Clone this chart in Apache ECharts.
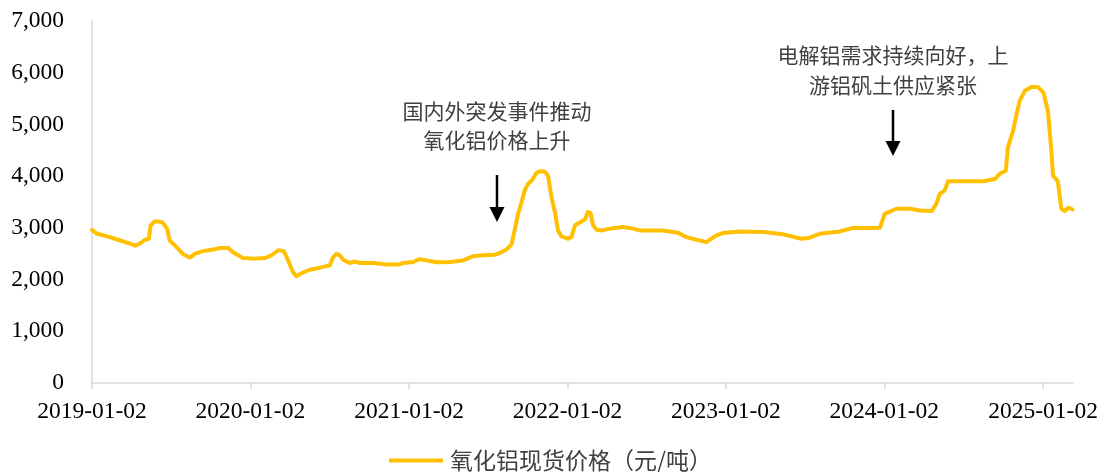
<!DOCTYPE html>
<html>
<head>
<meta charset="utf-8">
<script src="https://cdn.jsdelivr.net/npm/echarts@6/dist/echarts.min.js"></script>
<style>
  html, body { margin: 0; padding: 0; background: #fff; }
  #chart { width: 1101px; height: 472px; }
</style>
</head>
<body>
<div id="chart"></div>
<script>
// 氧化铝现货价格（元/吨）
const dates = [
  '2019-01-02', '2019-01-13', '2019-02-12', '2019-03-03', '2019-03-31', '2019-04-11', '2019-04-22',
  '2019-05-04', '2019-05-13', '2019-05-17', '2019-05-27', '2019-06-13', '2019-06-24', '2019-06-30',
  '2019-07-12', '2019-07-31', '2019-08-16', '2019-08-28', '2019-09-15', '2019-10-08', '2019-10-24',
  '2019-11-12', '2019-11-23', '2019-12-16', '2020-01-08', '2020-02-04', '2020-02-20', '2020-03-06',
  '2020-03-19', '2020-03-29', '2020-04-09', '2020-04-17', '2020-04-29', '2020-05-18', '2020-06-10',
  '2020-07-03', '2020-07-11', '2020-07-19', '2020-07-26', '2020-08-03', '2020-08-18', '2020-08-30',
  '2020-09-10', '2020-10-11', '2020-11-11', '2020-12-08', '2020-12-19', '2021-01-11', '2021-01-26',
  '2021-03-06', '2021-04-06', '2021-05-06', '2021-05-29', '2021-06-21', '2021-07-18', '2021-07-30',
  '2021-08-14', '2021-08-26', '2021-09-02', '2021-09-10', '2021-09-18', '2021-09-25', '2021-10-03',
  '2021-10-13', '2021-10-22', '2021-10-30', '2021-11-10', '2021-11-18', '2021-11-26', '2021-12-04',
  '2021-12-11', '2021-12-19', '2022-01-03', '2022-01-11', '2022-01-19', '2022-01-31', '2022-02-11',
  '2022-02-18', '2022-02-24', '2022-03-02', '2022-03-10', '2022-03-21', '2022-04-09', '2022-05-10',
  '2022-06-02', '2022-06-17', '2022-08-10', '2022-09-14', '2022-10-03', '2022-10-26', '2022-11-18',
  '2022-12-11', '2022-12-26', '2023-02-03', '2023-03-29', '2023-05-14', '2023-06-25', '2023-07-14',
  '2023-08-06', '2023-09-21', '2023-10-22', '2023-11-22', '2023-12-23', '2024-01-03', '2024-01-30',
  '2024-03-01', '2024-03-24', '2024-04-20', '2024-05-01', '2024-05-09', '2024-05-20', '2024-05-28',
  '2024-06-24', '2024-08-17', '2024-09-13', '2024-09-24', '2024-10-08', '2024-10-13', '2024-10-25',
  '2024-11-02', '2024-11-09', '2024-11-21', '2024-12-06', '2024-12-21', '2025-01-03', '2025-01-13',
  '2025-01-21', '2025-01-25', '2025-02-05', '2025-02-13', '2025-02-21', '2025-03-01', '2025-03-11'
];
const prices = [
  2960, 2890, 2820, 2770, 2695, 2655, 2695,
  2770, 2790, 3045, 3130, 3110, 2985, 2755,
  2660, 2490, 2425, 2500, 2550, 2580, 2610,
  2610, 2530, 2415, 2405, 2415, 2470, 2565,
  2550, 2370, 2145, 2065, 2125, 2190, 2230,
  2275, 2435, 2500, 2470, 2385, 2320, 2350,
  2320, 2320, 2290, 2290, 2320, 2340, 2395,
  2335, 2340, 2370, 2450, 2470, 2480, 2515,
  2580, 2680, 2950, 3270, 3495, 3720, 3850,
  3930, 4060, 4095, 4090, 4010, 3590, 3305,
  2950, 2835, 2790, 2820, 3045, 3110, 3160,
  3305, 3285, 3045, 2965, 2950, 2985, 3015,
  2985, 2950, 2950, 2905, 2820, 2770, 2725,
  2855, 2900, 2930, 2920, 2875, 2790, 2810,
  2885, 2930, 3000, 2995, 3000, 3270, 3370,
  3370, 3335, 3325, 3465, 3660, 3720, 3900,
  3900, 3900, 3945, 4045, 4105, 4555, 4880,
  5200, 5455, 5650, 5725, 5725, 5615, 5265,
  4495, 4010, 3900, 3370, 3325, 3390, 3355
];
const tickDates = ['2019-01-02', '2020-01-02', '2021-01-02', '2022-01-02', '2023-01-02', '2024-01-02', '2025-01-02'];
const seriesName = '氧化铝现货价格（元/吨）';
const note1 = '国内外突发事件推动\n氧化铝价格上升';
const note2 = '电解铝需求持续向好，上\n游铝矾土供应紧张';

const ts = (d) => echarts.number.parseDate(d).getTime();
const tickValues = tickDates.map(ts);

const chart = echarts.init(document.getElementById('chart'), null, { renderer: 'canvas' });

const serif = 'Liberation Serif, Times New Roman, serif';
const cjk = 'Noto Sans CJK SC, sans-serif';

const arrow = (x, y1, y2) => [
  {
    type: 'line',
    shape: { x1: x, y1: y1, x2: x, y2: y2 - 12 },
    style: { stroke: '#000', lineWidth: 2.5 },
  },
  {
    type: 'polygon',
    shape: { points: [[x - 7.5, y2 - 15], [x + 7.5, y2 - 15], [x, y2]] },
    style: { fill: '#000' },
  },
];

chart.setOption({
  animation: false,
  backgroundColor: '#fff',
  grid: {
    left: 92,
    right: 28,
    top: 21,
    bottom: 89,
    containLabel: false,
  },
  legend: {
    show: true,
    left: 'center',
    top: 449,
    padding: 0,
    icon: 'rect',
    itemWidth: 54,
    itemHeight: 4,
    itemGap: 6,
    textStyle: {
      fontFamily: cjk,
      fontSize: 23,
      color: '#404040',
      padding: [0, 0, 0, 2],
    },
    data: [seriesName],
  },
  xAxis: {
    type: 'value',
    min: ts('2019-01-02'),
    max: ts('2025-03-12'),
    splitLine: { show: false },
    axisLine: { show: true, lineStyle: { color: '#d9d9d9', width: 1.5 } },
    axisTick: {
      show: true,
      customValues: tickValues,
      length: 6,
      inside: false,
      lineStyle: { color: '#d9d9d9', width: 1.5 },
    },
    axisLabel: {
      customValues: tickValues,
      margin: 17,
      fontFamily: serif,
      fontSize: 23.5,
      color: '#000',
      formatter: (v) => echarts.time.format(v, '{yyyy}-{MM}-{dd}', false),
    },
  },
  yAxis: {
    type: 'value',
    min: 0,
    max: 7000,
    interval: 1000,
    splitLine: { show: false },
    axisLine: { show: true, lineStyle: { color: '#d9d9d9', width: 1.5 } },
    axisTick: { show: false },
    axisLabel: {
      margin: 28,
      fontFamily: serif,
      fontSize: 23.5,
      color: '#000',
      formatter: (v) => echarts.format.addCommas(v),
    },
  },
  series: [
    {
      name: seriesName,
      type: 'line',
      data: dates.map((d, i) => [ts(d), prices[i]]),
      showSymbol: false,
      symbol: 'none',
      lineStyle: { color: '#FFC000', width: 4, join: 'round', cap: 'round' },
      itemStyle: { color: '#FFC000' },
    },
  ],
  graphic: [
    {
      type: 'text',
      x: 497,
      y: 126,
      style: {
        text: note1,
        fontFamily: cjk,
        fontSize: 21,
        lineHeight: 29,
        fill: '#404040',
        align: 'center',
        verticalAlign: 'middle',
      },
    },
    {
      type: 'text',
      x: 893,
      y: 70,
      style: {
        text: note2,
        fontFamily: cjk,
        fontSize: 21,
        lineHeight: 30,
        fill: '#404040',
        align: 'center',
        verticalAlign: 'middle',
      },
    },
    ...arrow(497, 175, 222),
    ...arrow(893, 110, 156),
  ],
});
</script>
</body>
</html>
